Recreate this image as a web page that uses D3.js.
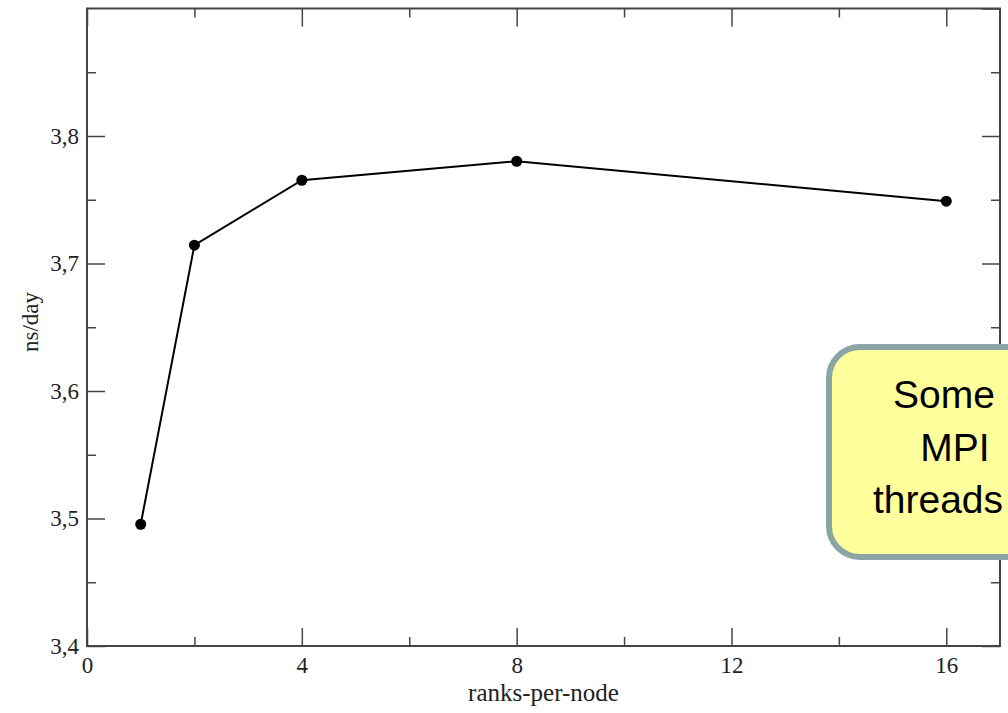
<!DOCTYPE html>
<meta charset="utf-8">
<style>
body { margin: 0; background: #fff; }
.axis path { display: none; }
.axis line { stroke: #444; stroke-width: 1.5; }
.axis text { font-family: "Liberation Serif", serif; font-size: 23px; fill: #222; }
.frame { fill: none; stroke: #444; stroke-width: 2; }
.label { font-family: "Liberation Serif", serif; fill: #222; }
.callout text { font-family: "Liberation Sans", Arial, sans-serif; font-size: 39px; fill: #000; }
</style>
<svg width="1008" height="713"></svg>
<script src="https://d3js.org/d3.v7.min.js"></script>
<script>

// ranks-per-node vs ns/day
var ranks = [1, 2, 4, 8, 16],
    nsDay = [3.4955, 3.7144, 3.7653, 3.7802, 3.7489];

var xMajor = [0, 4, 8, 12, 16],
    xMinor = [2, 6, 10, 14],
    yMajor = [3.4, 3.5, 3.6, 3.7, 3.8, 3.9],
    yMinor = [3.45, 3.55, 3.65, 3.75, 3.85];

var calloutLines = ["Some", "MPI", "threads"];

var svg = d3.select("svg"),
    margin = {top: 8.5, right: 8, bottom: 67, left: 87},
    width = +svg.attr("width") - margin.left - margin.right,
    height = +svg.attr("height") - margin.top - margin.bottom;

var x = d3.scaleLinear().domain([0, 17]).range([0, width]),
    y = d3.scaleLinear().domain([3.4, 3.9]).range([height, 0]);

var comma = function(d) { return d.toFixed(1).replace(".", ","); };

var g = svg.append("g")
    .attr("transform", "translate(" + margin.left + "," + margin.top + ")");

// major + minor ticks, pointing inward on all four sides
g.append("g")
    .attr("class", "axis")
    .attr("transform", "translate(0," + height + ")")
    .call(d3.axisBottom(x).tickValues(xMajor).tickSize(-18).tickSizeOuter(0).tickPadding(11));
g.append("g")
    .attr("class", "axis")
    .attr("transform", "translate(0," + height + ")")
    .call(d3.axisBottom(x).tickValues(xMinor).tickSize(-9).tickFormat(""));
g.append("g")
    .attr("class", "axis")
    .call(d3.axisTop(x).tickValues(xMajor).tickSize(-18).tickFormat(""));
g.append("g")
    .attr("class", "axis")
    .call(d3.axisTop(x).tickValues(xMinor).tickSize(-9).tickFormat(""));

g.append("g")
    .attr("class", "axis")
    .call(d3.axisLeft(y).tickValues(yMajor.slice(0, 5)).tickSize(-18).tickPadding(8).tickFormat(comma));
g.append("g")
    .attr("class", "axis")
    .call(d3.axisLeft(y).tickValues(yMinor).tickSize(-9).tickFormat(""));
g.append("g")
    .attr("class", "axis")
    .attr("transform", "translate(" + width + ",0)")
    .call(d3.axisRight(y).tickValues(yMajor).tickSize(-18).tickFormat(""));
g.append("g")
    .attr("class", "axis")
    .attr("transform", "translate(" + width + ",0)")
    .call(d3.axisRight(y).tickValues(yMinor).tickSize(-9).tickFormat(""));

g.append("rect")
    .attr("class", "frame")
    .attr("width", width)
    .attr("height", height);

var data = ranks.map(function(r, i) { return {x: r, y: nsDay[i]}; });

g.append("path")
    .datum(data)
    .attr("fill", "none")
    .attr("stroke", "#000")
    .attr("stroke-width", 2)
    .attr("d", d3.line()
      .x(function(d) { return x(d.x); })
      .y(function(d) { return y(d.y); }));

g.selectAll(".dot")
    .data(data)
  .enter().append("circle")
    .attr("class", "dot")
    .attr("cx", function(d) { return x(d.x); })
    .attr("cy", function(d) { return y(d.y); })
    .attr("r", 5.5)
    .attr("fill", "#000");

svg.append("text")
    .attr("class", "label")
    .attr("x", margin.left + width / 2)
    .attr("y", 701)
    .attr("text-anchor", "middle")
    .style("font-size", "25px")
    .text("ranks-per-node");

svg.append("text")
    .attr("class", "label")
    .attr("transform", "translate(38,322) rotate(-90)")
    .attr("text-anchor", "middle")
    .style("font-size", "23px")
    .text("ns/day");

// callout box running off the right edge
var callout = svg.append("g").attr("class", "callout");
callout.append("rect")
    .attr("x", 829)
    .attr("y", 347)
    .attr("width", 260)
    .attr("height", 210)
    .attr("rx", 31)
    .attr("fill", "#ffff9c")
    .attr("stroke", "#8aa5a5")
    .attr("stroke-width", 6);

var lineX = [944, 955, 938];
callout.selectAll("text")
    .data(calloutLines)
  .enter().append("text")
    .attr("x", function(d, i) { return lineX[i]; })
    .attr("y", function(d, i) { return 408 + i * 52.5; })
    .attr("text-anchor", "middle")
    .text(function(d) { return d; });

</script>
